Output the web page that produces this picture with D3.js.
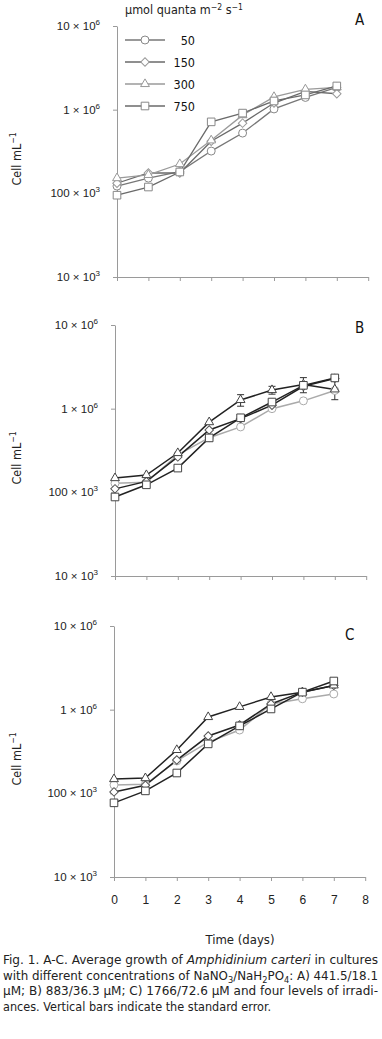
<!DOCTYPE html>
<html>
<head>
<meta charset="utf-8">
<script src="https://cdn.jsdelivr.net/npm/d3@7"></script>
<style>
  body { margin: 0; background: #fff; }
  svg { display: block; font-family: "Liberation Sans Narrow", "DejaVu Sans Condensed", "Liberation Sans", sans-serif; }
  .axis path, .axis line { stroke: #9a9a9a; }
  .axis text { fill: #222; font-size: 12px; }
</style>
</head>
<body>
<div id="wrapper"></div>
<script>
// data (cells per mL)
const days = [0, 1, 2, 3, 4, 5, 6, 7];
const xTicks = [0, 1, 2, 3, 4, 5, 6, 7, 8];
const yTicks = [1e4, 1e5, 1e6, 1e7];
const yTickLabels = [["10 × 10", "3"], ["100 × 10", "3"], ["1 × 10", "6"], ["10 × 10", "6"]];
const irradiances = ["50", "150", "300", "750"];
const panelNames = ["A", "B", "C"];

const panelA_50 = [122e3, 152e3, 182e3, 320e3, 525e3, 1.02e6, 1.40e6, 1.85e6];
const panelA_150 = [132e3, 175e3, 175e3, 420e3, 690e3, 1.20e6, 1.65e6, 1.55e6];
const panelA_300 = [152e3, 166e3, 224e3, 430e3, 860e3, 1.42e6, 1.75e6, 1.85e6];
const panelA_750 = [95e3, 119e3, 180e3, 715e3, 910e3, 1.27e6, 1.50e6, 1.92e6];

const panelB_50 = [128e3, 132e3, 280e3, 450e3, 605e3, 1.00e6, 1.24e6, 1.65e6];
const panelB_150 = [110e3, 135e3, 265e3, 556e3, 760e3, 1.10e6, 1.85e6, 2.30e6];
const panelB_300 = [148e3, 161e3, 295e3, 690e3, 1.27e6, 1.67e6, 1.95e6, 1.70e6];
const panelB_750 = [88e3, 123e3, 195e3, 447e3, 778e3, 1.20e6, 1.90e6, 2.33e6];
const panelB_300_se = [0, 0, 0, 0, 0.20e6, 0.18e6, 0.40e6, 0.42e6];

const panelC_50 = [126e3, 128e3, 244e3, 410e3, 571e3, 1.17e6, 1.35e6, 1.54e6];
const panelC_150 = [104e3, 125e3, 250e3, 484e3, 656e3, 1.17e6, 1.62e6, 1.95e6];
const panelC_300 = [148e3, 152e3, 330e3, 817e3, 1.08e6, 1.42e6, 1.62e6, 1.95e6];
const panelC_750 = [77e3, 107e3, 175e3, 390e3, 640e3, 1.02e6, 1.62e6, 2.20e6];

function drawChart() {

  // 1. Organise data
  const panelSeries = [
    [panelA_50, panelA_150, panelA_300, panelA_750],
    [panelB_50, panelB_150, panelB_300, panelB_750],
    [panelC_50, panelC_150, panelC_300, panelC_750],
  ];
  const panelErrors = [null, { series: 2, se: panelB_300_se }, null];

  // 2. Dimensions
  const dimensions = { width: 382, height: 1039 };
  const panels = [
    { top: 26, bottom: 277, left: 117, letterX: 355, letterY: 25 },
    { top: 325, bottom: 576, left: 115, letterX: 355, letterY: 333 },
    { top: 626, bottom: 877, left: 114, letterX: 345, letterY: 640 },
  ];
  const dayWidth = 31.4;

  // marker + colour styles per series (A is all grey, B/C darker)
  const symbols = [d3.symbolCircle, d3.symbolSquare, d3.symbolTriangle, d3.symbolSquare];
  const symbolSizes = [50, 36, 34, 58];
  const symbolRotate = [0, 45, 0, 0];
  const lineColors = [
    ["#777", "#6a6a6a", "#9a9a9a", "#6a6a6a"],
    ["#aaa", "#222", "#222", "#222"],
    ["#aaa", "#222", "#222", "#222"],
  ];
  const markerColors = [
    ["#888", "#999", "#999", "#888"],
    ["#aaa", "#555", "#444", "#444"],
    ["#aaa", "#555", "#444", "#444"],
  ];

  // 3. Canvas
  const svg = d3.select("#wrapper")
    .append("svg")
      .attr("width", dimensions.width)
      .attr("height", dimensions.height);

  panels.forEach((p, pi) => {
    const x = d3.scaleLinear()
      .domain([0, 8])
      .range([p.left, p.left + 8 * dayWidth]);
    const y = d3.scaleLog()
      .domain([1e4, 1e7])
      .range([p.bottom, p.top]);

    const g = svg.append("g");

    // axes
    const yAxis = g.append("g")
        .attr("class", "axis")
        .attr("transform", `translate(${p.left},0)`)
        .call(d3.axisLeft(y).tickValues(yTicks).tickSize(4).tickSizeOuter(0).tickFormat(""));

    yAxis.selectAll(".tick")
      .append("text")
        .attr("x", -17)
        .attr("y", 3.5)
        .attr("text-anchor", "end")
        .style("font-size", "11.5px")
        .each(function(d) {
          const lab = yTickLabels[yTicks.indexOf(d)];
          const t = d3.select(this);
          t.append("tspan").text(lab[0]);
          t.append("tspan").attr("dy", -5).style("font-size", "8px").text(lab[1]);
        });

    const xAxis = g.append("g")
        .attr("class", "axis")
        .attr("transform", `translate(0,${p.bottom})`)
        .call(d3.axisBottom(x).tickValues(xTicks).tickSize(4).tickSizeOuter(0).tickPadding(14));
    if (pi < 2) xAxis.selectAll("text").remove();

    // y label
    const yl = g.append("text")
        .attr("transform", `translate(21,${p.top + 133}) rotate(-90)`)
        .attr("text-anchor", "middle")
        .style("font-size", "12.5px")
        .attr("fill", "#222");
    yl.append("tspan").text("Cell mL");
    yl.append("tspan").attr("dy", -5).style("font-size", "8.5px").text("−1");

    // panel letter
    g.append("text")
        .attr("x", p.letterX)
        .attr("y", p.letterY)
        .style("font-size", "15px")
        .attr("fill", "#111")
        .text(panelNames[pi]);

    // error bars
    const err = panelErrors[pi];
    if (err) {
      const vals = panelSeries[pi][err.series];
      const eg = g.append("g").attr("stroke", "#333").attr("stroke-width", 1);
      days.forEach((d, i) => {
        if (!err.se[i]) return;
        const y0 = y(vals[i] - err.se[i]);
        const y1 = y(vals[i] + err.se[i]);
        eg.append("line").attr("x1", x(d)).attr("x2", x(d)).attr("y1", y0).attr("y2", y1);
        [y0, y1].forEach(yy => eg.append("line")
          .attr("x1", x(d) - 3.5).attr("x2", x(d) + 3.5).attr("y1", yy).attr("y2", yy));
      });
    }

    // lines + markers
    const line = d3.line()
      .x((_d, i) => x(days[i]))
      .y(d => y(d));

    panelSeries[pi].forEach((vals, si) => {
      g.append("path")
          .datum(vals)
          .attr("fill", "none")
          .attr("stroke", lineColors[pi][si])
          .attr("stroke-width", pi === 0 ? 1.3 : 1.5)
          .attr("d", line);
    });
    panelSeries[pi].forEach((vals, si) => {
      g.selectAll(null)
        .data(vals)
        .join("path")
          .attr("d", d3.symbol().type(symbols[si]).size(symbolSizes[si]))
          .attr("transform", (d, i) => `translate(${x(days[i])},${y(d)}) rotate(${symbolRotate[si]})`)
          .attr("fill", "#fff")
          .attr("stroke", markerColors[pi][si])
          .attr("stroke-width", 1);
    });
  });

  // 4. Legend (panel A)
  const legend = svg.append("g");
  const lt = legend.append("text")
      .attr("x", 125)
      .attr("y", 14)
      .style("font-size", "12.5px")
      .attr("fill", "#222");
  lt.append("tspan").text("μmol quanta m");
  lt.append("tspan").attr("dy", -4).style("font-size", "8.5px").text("−2");
  lt.append("tspan").attr("dy", 4).text(" s");
  lt.append("tspan").attr("dy", -4).style("font-size", "8.5px").text("−1");

  const legendY = d3.scalePoint().domain(irradiances).range([40, 106]);
  irradiances.forEach((lab, si) => {
    const yy = legendY(lab);
    legend.append("line")
        .attr("x1", 125).attr("x2", 165).attr("y1", yy).attr("y2", yy)
        .attr("stroke", lineColors[0][si]).attr("stroke-width", 1.6);
    legend.append("path")
        .attr("d", d3.symbol().type(symbols[si]).size(symbolSizes[si]))
        .attr("transform", `translate(145,${yy}) rotate(${symbolRotate[si]})`)
        .attr("fill", "#fff")
        .attr("stroke", markerColors[0][si]);
    legend.append("text")
        .attr("x", 195).attr("y", yy + 4.5)
        .attr("text-anchor", "end")
        .style("font-size", "12.5px")
        .attr("fill", "#111")
        .text(lab);
  });

  // 5. Axis title + caption
  svg.append("text")
      .attr("x", 240)
      .attr("y", 944)
      .attr("text-anchor", "middle")
      .style("font-size", "13px")
      .attr("fill", "#222")
      .text("Time (days)");

  const caption = svg.append("g").attr("fill", "#222").style("font-size", "13px");
  const c1 = caption.append("text").attr("x", 3).attr("y", 964)
      .attr("textLength", 375).attr("lengthAdjust", "spacingAndGlyphs");
  c1.append("tspan").text("Fig. 1. A-C. Average growth of ");
  c1.append("tspan").style("font-style", "italic").text("Amphidinium carteri");
  c1.append("tspan").text(" in cultures");

  const c2 = caption.append("text").attr("x", 3).attr("y", 980)
      .attr("textLength", 375).attr("lengthAdjust", "spacingAndGlyphs");
  c2.append("tspan").text("with different concentrations of NaNO");
  c2.append("tspan").attr("dy", 3).style("font-size", "9px").text("3");
  c2.append("tspan").attr("dy", -3).text("/NaH");
  c2.append("tspan").attr("dy", 3).style("font-size", "9px").text("2");
  c2.append("tspan").attr("dy", -3).text("PO");
  c2.append("tspan").attr("dy", 3).style("font-size", "9px").text("4");
  c2.append("tspan").attr("dy", -3).text(": A) 441.5/18.1");

  caption.append("text").attr("x", 3).attr("y", 995)
      .attr("textLength", 375).attr("lengthAdjust", "spacingAndGlyphs")
      .text("µM; B) 883/36.3 µM; C) 1766/72.6 µM and four levels of irradi-");

  caption.append("text").attr("x", 3).attr("y", 1011)
      .attr("textLength", 268).attr("lengthAdjust", "spacingAndGlyphs")
      .text("ances. Vertical bars indicate the standard error.");
}
drawChart();
</script>
</body>
</html>
